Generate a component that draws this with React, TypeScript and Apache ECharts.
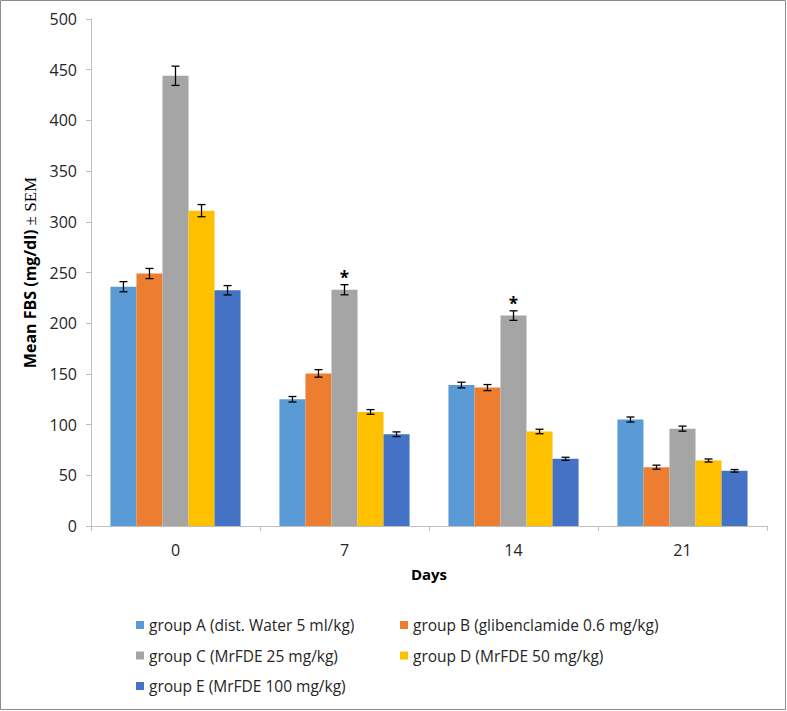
import React, { useEffect, useRef } from "react";
import * as echarts from "echarts";

const days = ["0", "7", "14", "21"];
const seriesNames = [
  "group A (dist. Water 5 ml/kg)",
  "group B (glibenclamide 0.6 mg/kg)",
  "group C (MrFDE 25 mg/kg)",
  "group D (MrFDE 50 mg/kg)",
  "group E (MrFDE 100 mg/kg)",
];
const colors = ["#5b9bd5", "#ed7d31", "#a5a5a5", "#ffc000", "#4472c4"];

const groupA = [236, 125, 139, 105];
const groupB = [249, 150.5, 136.5, 58];
const groupC = [444, 233, 207.5, 96];
const groupD = [311, 112.5, 93.2, 64.6];
const groupE = [232.5, 90.5, 66.3, 54.4];

const semA = [5, 2.7, 2.8, 2.5];
const semB = [5, 3.7, 3, 2];
const semC = [9.5, 5, 4.7, 2.5];
const semD = [6, 2.3, 2.2, 1.5];
const semE = [4.6, 2.3, 1.5, 1.3];

const sigC = ["", "*", "*", ""];

const yTicks = { min: 0, max: 500, interval: 50 };

const means = [groupA, groupB, groupC, groupD, groupE];
const sems = [semA, semB, semC, semD, semE];
const sigs = [[], [], sigC, [], []];

const CAT_GAP = 0.23;
const FONT = "'Open Sans', 'Noto Sans', sans-serif";

export default function App() {
  const ref = useRef<HTMLDivElement>(null);
  useEffect(() => {
    if (!ref.current) return;
    const chart = echarts.init(ref.current, undefined, { renderer: "svg" });

    const errData: number[][] = [];
    means.forEach((arr, s) => {
      arr.forEach((m, c) => {
        errData.push([c, s, m, sems[s][c]]);
      });
    });

    const barSeries = means.map((arr, s) => ({
      name: seriesNames[s],
      type: "bar",
      data: arr,
      barGap: "0%",
      barCategoryGap: CAT_GAP * 100 + "%",
      itemStyle: { color: colors[s] },
    }));

    const legendText = { fontFamily: FONT, fontSize: 15.5, color: "#262626" };

    const option: any = {
      animation: false,
      backgroundColor: "#ffffff",
      graphic: [
        {
          type: "rect",
          shape: { x: 0.5, y: 0.5, width: 785, height: 709 },
          style: { fill: "none", stroke: "#8c8c8c", lineWidth: 1 },
          silent: true,
        },
      ],
      grid: { left: 91, right: 20, top: 19, bottom: 185 },
      legend: [
        {
          data: [seriesNames[0], seriesNames[2], seriesNames[4]],
          orient: "vertical",
          left: 131,
          top: 612,
          itemWidth: 8,
          itemHeight: 8,
          itemGap: 14.5,
          icon: "rect",
          textStyle: legendText,
        },
        {
          data: [seriesNames[1], seriesNames[3]],
          orient: "vertical",
          left: 395,
          top: 612,
          itemWidth: 8,
          itemHeight: 8,
          itemGap: 14.5,
          icon: "rect",
          textStyle: legendText,
        },
      ],
      xAxis: {
        type: "category",
        data: days,
        name: "Days",
        nameLocation: "middle",
        nameGap: 40,
        nameTextStyle: {
          fontFamily: FONT,
          fontSize: 15,
          fontWeight: "bold",
          color: "#000",
        },
        axisLine: { lineStyle: { color: "#bfbfbf", width: 1 } },
        axisTick: { show: true, length: 5, lineStyle: { color: "#bfbfbf" } },
        axisLabel: {
          fontFamily: FONT,
          fontSize: 16,
          color: "#262626",
          margin: 16,
        },
        splitLine: { show: false },
      },
      yAxis: {
        type: "value",
        min: yTicks.min,
        max: yTicks.max,
        interval: yTicks.interval,
        name: "{a|Mean FBS (mg/dl) }{b|± SEM}",
        nameLocation: "middle",
        nameGap: 44,
        nameTextStyle: {
          rich: {
            a: {
              fontFamily: FONT,
              fontSize: 16,
              fontWeight: "bold",
              color: "#000",
            },
            b: {
              fontFamily: "'Liberation Serif', serif",
              fontSize: 17,
              color: "#000",
            },
          },
        },
        axisLine: { show: true, lineStyle: { color: "#bfbfbf", width: 1 } },
        axisTick: { show: true, length: 5, lineStyle: { color: "#bfbfbf" } },
        axisLabel: {
          fontFamily: FONT,
          fontSize: 16,
          color: "#262626",
          margin: 14,
        },
        splitLine: { show: false },
      },
      series: [
        ...barSeries,
        {
          type: "custom",
          name: "err",
          data: errData,
          encode: { x: 0, y: 2 },
          z: 10,
          silent: true,
          renderItem: (params: any, api: any) => {
            const c = api.value(0);
            const s = api.value(1);
            const m = api.value(2);
            const e = api.value(3);
            const bandW = api.size([1, 0])[0];
            const bw = (bandW * (1 - CAT_GAP)) / 5;
            const cx = api.coord([c, 0])[0] + (s - 2) * bw;
            const yT = api.coord([c, m + e])[1];
            const yB = api.coord([c, m - e])[1];
            const cap = 4;
            const st = { stroke: "#000", lineWidth: 1.3 };
            const children: any[] = [
              { type: "line", shape: { x1: cx, y1: yT, x2: cx, y2: yB }, style: st },
              { type: "line", shape: { x1: cx - cap, y1: yT, x2: cx + cap, y2: yT }, style: st },
              { type: "line", shape: { x1: cx - cap, y1: yB, x2: cx + cap, y2: yB }, style: st },
            ];
            const sg = (sigs[s] as string[])[c];
            if (sg) {
              children.push({
                type: "text",
                style: {
                  x: cx,
                  y: yT - 7,
                  text: sg,
                  fill: "#000",
                  font: "bold 17px " + FONT,
                  textAlign: "center",
                  textVerticalAlign: "middle",
                },
              });
            }
            return { type: "group", children };
          },
        },
      ],
    };
    chart.setOption(option);
    return () => chart.dispose();
  }, []);
  return (
    <div
      ref={ref}
      style={{ position: "fixed", left: 0, top: 0, width: 787, height: 711 }}
    />
  );
}
